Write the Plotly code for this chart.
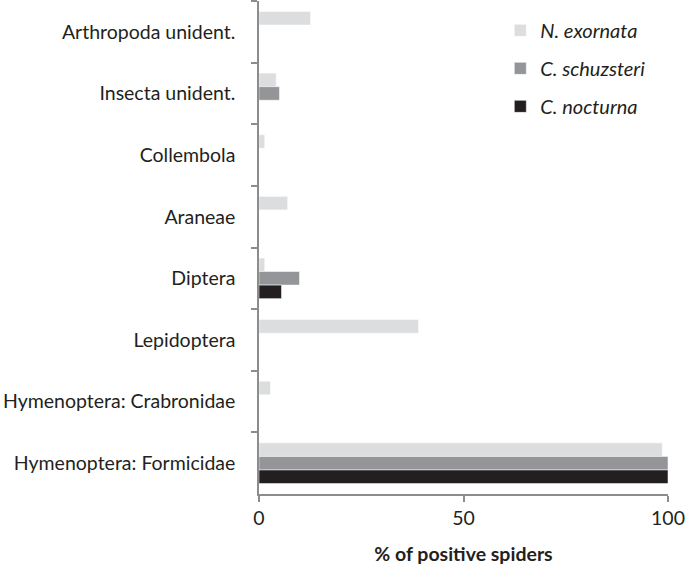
import plotly.graph_objects as go

categories = [
    "Arthropoda unident.",
    "Insecta unident.",
    "Collembola",
    "Araneae",
    "Diptera",
    "Lepidoptera",
    "Hymenoptera: Crabronidae",
    "Hymenoptera: Formicidae",
]

species = ["N. exornata", "C. schuzsteri", "C. nocturna"]

n_exornata = [12.6, 4.2, 1.4, 7.0, 1.4, 39.0, 2.8, 98.6]
c_schuzsteri = [0, 5.0, 0, 0, 9.9, 0, 0, 100]
c_nocturna = [0, 0, 0, 0, 5.5, 0, 0, 100]

colors = ["#dcdddf", "#939598", "#231f20"]

fig = go.Figure()
for name, vals, col in zip(species, [n_exornata, c_schuzsteri, c_nocturna], colors):
    fig.add_trace(go.Bar(
        x=vals, y=categories, name=name, orientation="h",
        marker=dict(color=col, line=dict(color="white", width=0.5)),
        legendgroup=name,
    ))

axis_col = "#8c8c8c"
text_col = "#231f20"

fig.update_layout(
    width=685, height=566,
    margin=dict(l=259, r=17, t=1, b=72),
    paper_bgcolor="white", plot_bgcolor="white",
    barmode="group", bargap=0.34, bargroupgap=0,
    font=dict(family="Lato", size=19.5, color=text_col),
    legend=dict(
        x=0.59, y=0.98, xanchor="left", yanchor="top",
        font=dict(size=20, style="italic"),
        traceorder="grouped", tracegroupgap=9,
        bgcolor="rgba(0,0,0,0)",
    ),
    xaxis=dict(
        range=[0, 100], tickvals=[0, 50, 100],
        showline=True, linecolor=axis_col, linewidth=1.5,
        ticks="outside", ticklen=6, tickcolor=axis_col, tickwidth=1.5,
        showgrid=False, zeroline=False,
        tickfont=dict(size=19.5),
        title=dict(text="<b>% of positive spiders</b>", font=dict(size=19.5), standoff=19),
        automargin=False,
    ),
    yaxis=dict(
        autorange="reversed",
        showline=True, linecolor=axis_col, linewidth=1.5,
        ticks="outside", ticklen=6, tickcolor=axis_col, tickwidth=1.5,
        tickson="boundaries", showgrid=False,
        tickfont=dict(size=19.5), ticklabelstandoff=18,
        automargin=False,
    ),
)

# drop the default page margin so the chart sits at the window's corner
fig.write_html("out.html", config={"displayModeBar": False},
               post_script="document.body.style.margin='0';")
